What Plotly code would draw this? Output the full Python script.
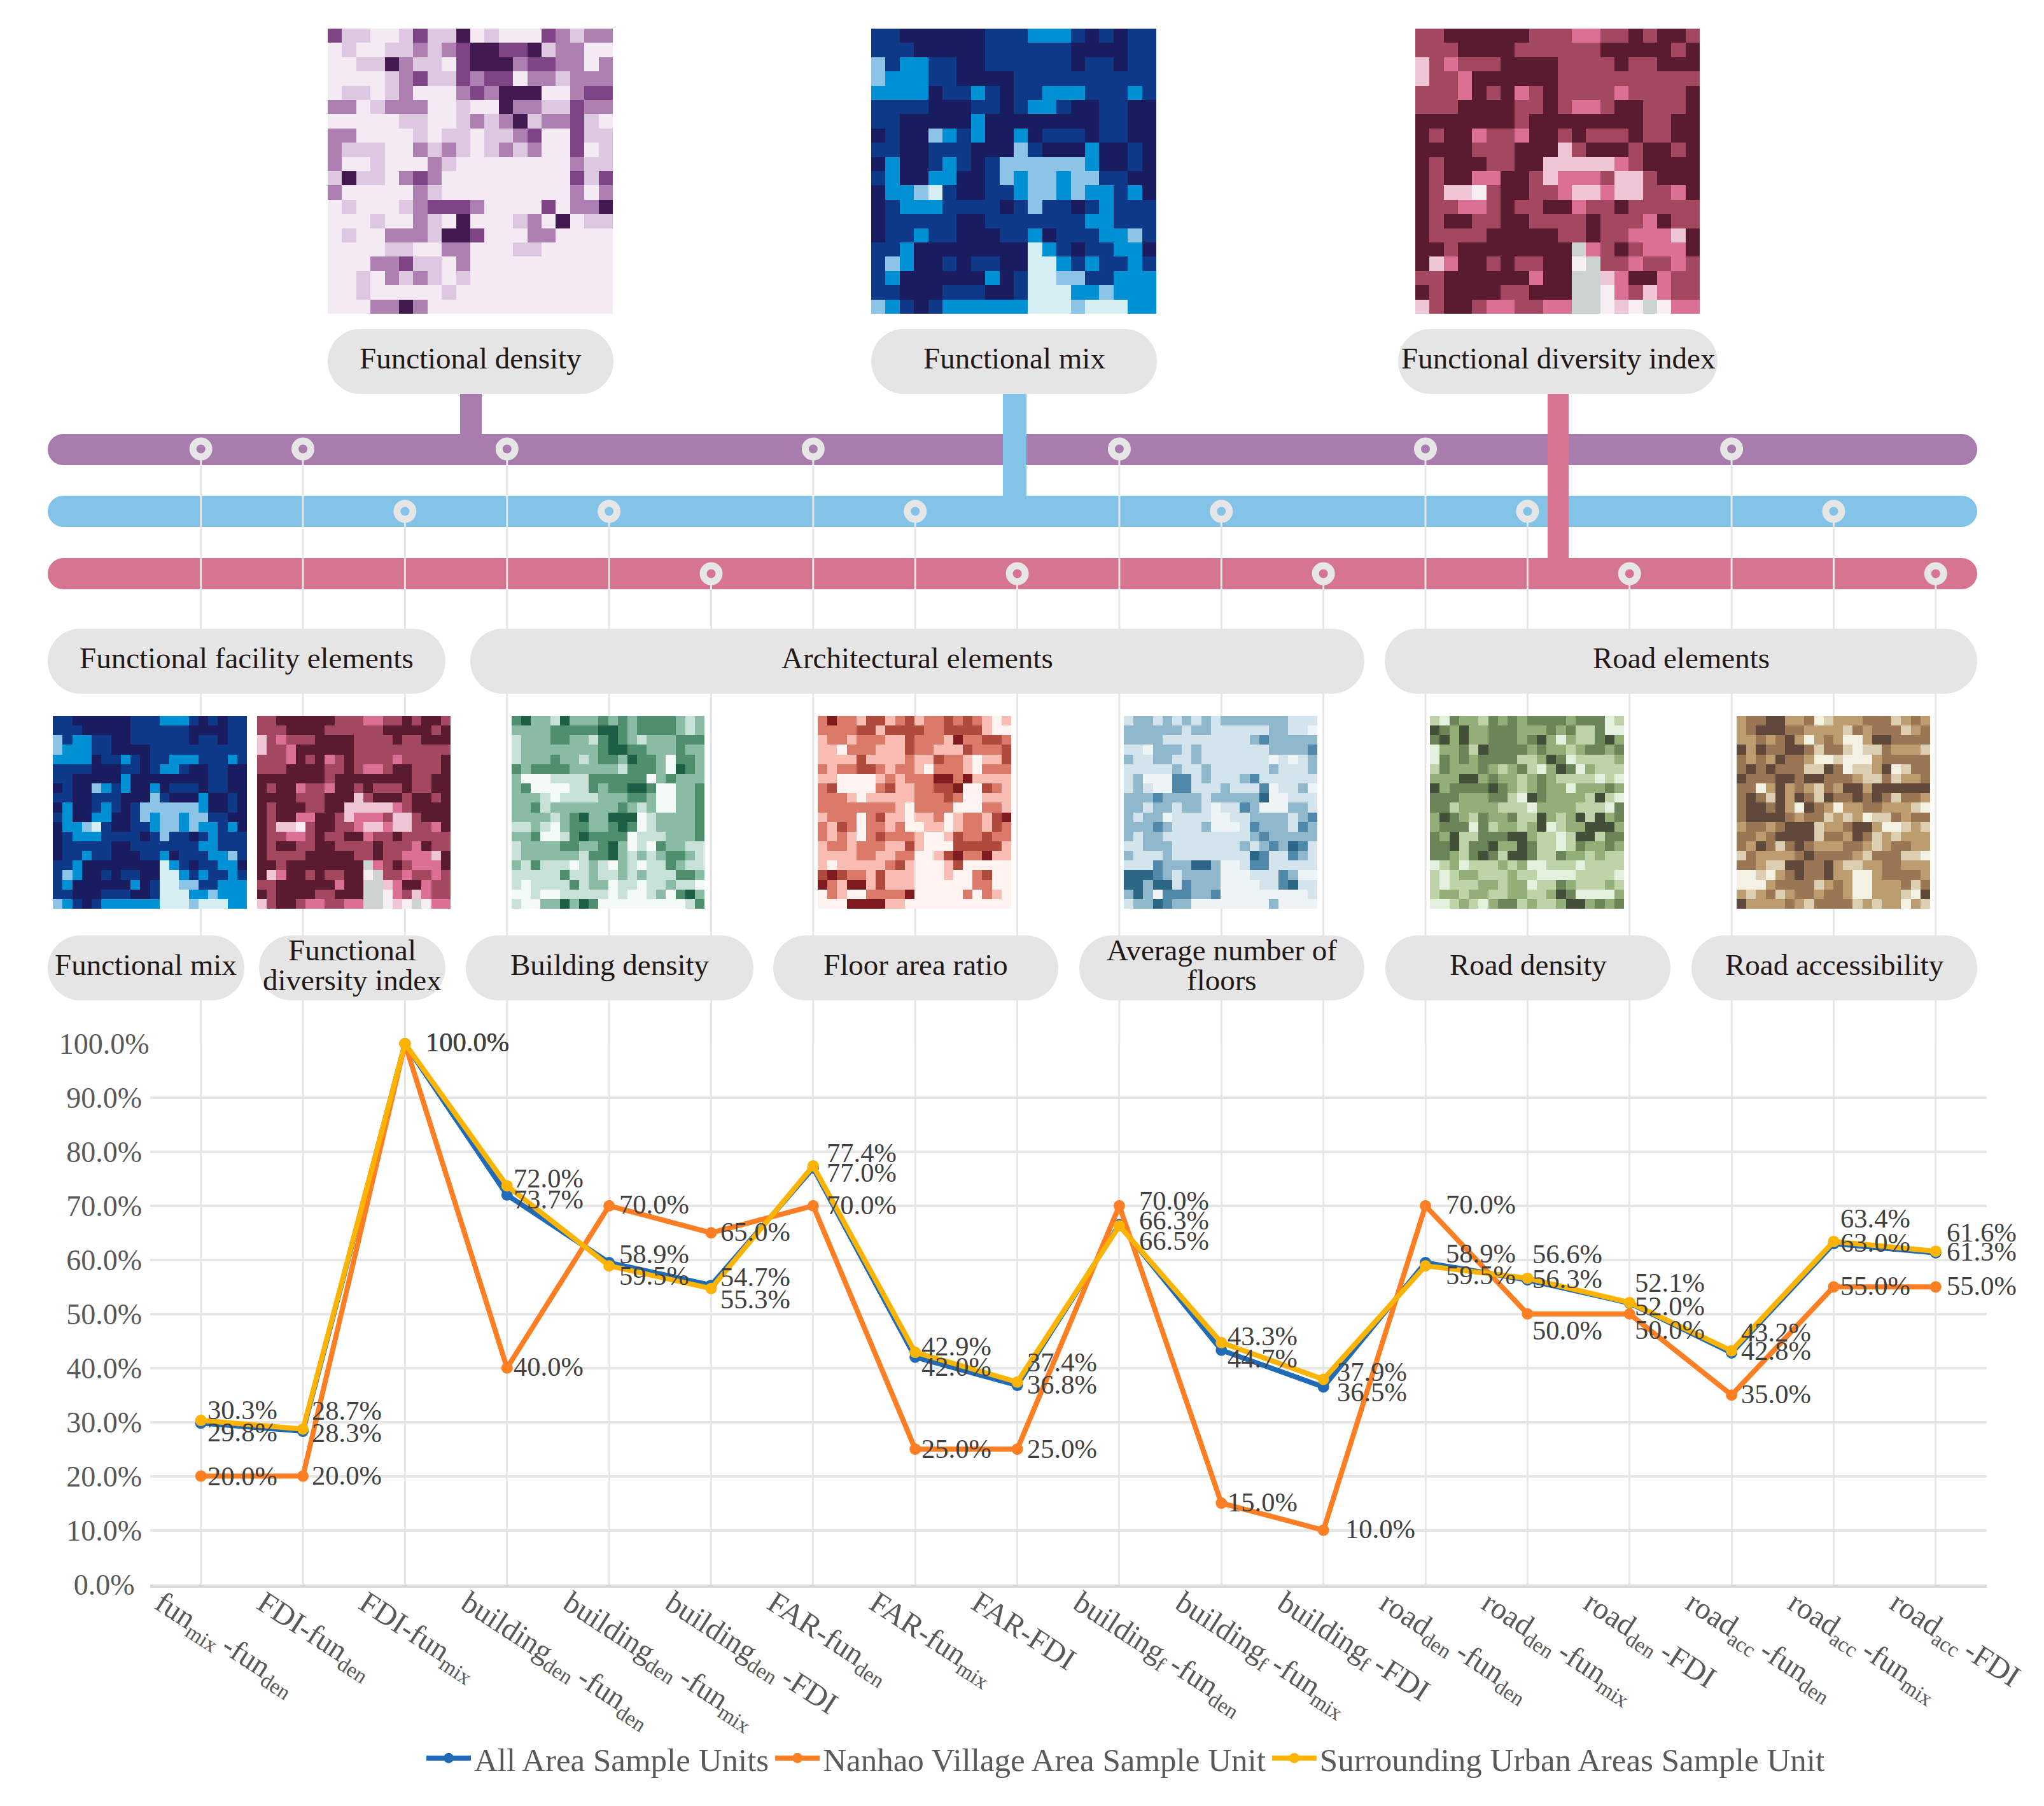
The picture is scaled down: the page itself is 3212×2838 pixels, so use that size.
import plotly.graph_objects as go

W, H = 3212, 2838

# ------------------ chart data ------------------
categories = ["fun<sub>mix&nbsp;</sub>-fun<sub>den</sub>", "FDI-fun<sub>den</sub>", "FDI-fun<sub>mix</sub>",
              "building<sub>den&nbsp;</sub>-fun<sub>den</sub>", "building<sub>den&nbsp;</sub>-fun<sub>mix</sub>", "building<sub>den&nbsp;</sub>-FDI",
              "FAR-fun<sub>den</sub>", "FAR-fun<sub>mix</sub>", "FAR-FDI",
              "building<sub>f&nbsp;</sub>-fun<sub>den</sub>", "building<sub>f&nbsp;</sub>-fun<sub>mix</sub>", "building<sub>f&nbsp;</sub>-FDI",
              "road<sub>den&nbsp;</sub>-fun<sub>den</sub>", "road<sub>den&nbsp;</sub>-fun<sub>mix</sub>", "road<sub>den&nbsp;</sub>-FDI",
              "road<sub>acc&nbsp;</sub>-fun<sub>den</sub>", "road<sub>acc&nbsp;</sub>-fun<sub>mix</sub>", "road<sub>acc&nbsp;</sub>-FDI"]
all_area = [29.8, 28.3, 100.0, 72.0, 59.5, 55.3, 77.0, 42.0, 36.8, 66.5, 43.3, 36.5, 59.5, 56.3, 52.0, 42.8, 63.0, 61.3]
nanhao = [20.0, 20.0, 100.0, 40.0, 70.0, 65.0, 70.0, 25.0, 25.0, 70.0, 15.0, 10.0, 70.0, 50.0, 50.0, 35.0, 55.0, 55.0]
surrounding = [30.3, 28.7, 100.0, 73.7, 58.9, 54.7, 77.4, 42.9, 37.4, 66.3, 44.7, 37.9, 58.9, 56.6, 52.1, 43.2, 63.4, 61.6]
y_ticks = [0, 10, 20, 30, 40, 50, 60, 70, 80, 90, 100]
y_tick_text = ["0.0%", "10.0%", "20.0%", "30.0%", "40.0%", "50.0%", "60.0%", "70.0%", "80.0%", "90.0%", "100.0%"]
series_names = ["All Area Sample Units", "Nanhao Village Area Sample Unit", "Surrounding Urban Areas Sample Unit"]

# ------------------ map tiles (class of each grid cell) ------------------
density_cells = ["31100131140100032122", "01001121234433412200", "00114211034442332202", "00001231132330221222",
                 "01101200023244400233", "22012220010042211322", "00000110012124122310", "22000010110112300311",
                 "21110021210121200301", "20010002100000000211", "14110232000000000313", "20000021000000000202",
                 "01000123332000030224", "00010021040001204011", "01002221443000220000", "00001100220001100000",
                 "00022311020000000000", "00102121010000000000", "00100000100000000000", "00022420000000000000"]
mix_cells = ["33444444333222343433", "33344444333333444433", "13223344333333433433", "12223344443333333333",
             "22224332343322233323", "33334443343223443344", "33444442444444443344", "43441232442433343344",
             "33443334441344424434", "42443234311111124434", "32442244312112113344", "42210344332112122324",
             "43222333343133432333", "43333344333333322333", "43323344433243332213", "33244444444023433224",
             "31244343344002323323", "32444444243001133222", "33444333443000221222", "12343222222000100022"]
fdi_cells = ["33444444333223343443", "33344443333334444434", "13233344443333433444", "13324444443333333333",
             "33324342343333233334", "33344443343223443334", "44444443444444443344", "43442332443433343344",
             "44443334441344434434", "43444334411111234444", "43442244312223113444", "43110344332112113324",
             "43322343344233433333", "43443344333343332433", "43333444443343322214", "44344444444523432224",
             "41244343344053323323", "33444444244551244233", "43444433444550231233", "13443223322550105022"]
building_cells = ["34221422232323333212", "22223333344323333212", "12223322134321222333", "12222222234433222322",
                  "12223221233243320332", "32333322222133320432", "20001111333333023222", "23000011323344300223",
                  "22210111122233200223", "22312222222321200223", "22221234224440122223", "11210233223430122223",
                  "22300134333301112223", "12222332234201032211", "12222221334212123321", "21311101210210113211",
                  "11111311211212111332", "10111131220110112110", "00100111110100120342", "10022424300000000013"]
far_cells = ["24221331231223232101", "22223313333223333100", "12212221132221422332", "11022211132211132223",
             "11113111121132210113", "21223321221022210222", "11000012122244241111", "23000023112233400321",
             "22210111112223200111", "22222222102222000221", "12220231101120122134", "21320221200110122132",
             "21210232221001322322", "12212221131000333331", "11112211220013422411", "10111112310001300000",
             "34322131110001002300", "42144131110000002200", "02100222240000020210", "00044441100000000000"]
floors_cells = ["12212121212222222111", "22222212211111122110", "22221111111112322222", "11022212111111122223",
                "21122112111111101012", "11111211211111121112", "12000331211123111111", "12100331112111301120",
                "22232222122222400111", "22122122101132000221", "21220111100112222123", "22232111200013222132",
                "21221111111112322222", "11222111111121232431", "21112111111114311321", "11132224420013311111",
                "44432122220001113200", "44244132220000113411", "24203332230000000001", "12243220000000020000"]
road_den_cells = ["10322132323333233301", "43242233322232311300", "34242233323420211342", "02231433332322123323",
                  "03232333311243011112", "13222321231024302111", "22244232212321111010", "42333343212322022232",
                  "33322233104322221410", "33122221110222211103", "24321322311421241423", "23330312212401224442",
                  "32411333442110144133", "33413342243110132232", "33213431443113221211", "01201112120011101111",
                  "10122111211000011110", "10111221220113211121", "12212211221124300002", "00121023312112442323"]
road_acc_cells = ["23344223012223331232", "23444332222132333123", "22323420232002443333", "42433443133101132221",
                  "32324332001000233333", "34343331143011240133", "43334434433321131223", "33024232132442444444",
                  "34314243143343431332", "34434204320223322210", "34444323312120113233", "23323444122344200121",
                  "33234444133243121222", "32431343222332123322", "13222234333321333110", "33211443342112233222",
                  "00102343342200233332", "00023333123200222313", "21231233233200222104", "42222321333312122021"]

palettes = {"density": ["#F3EAF4", "#DEC7E0", "#AE80B2", "#7E4485", "#421950"],
            "mix": ["#D4EEF1", "#8CC3E6", "#0090D4", "#0D3988", "#191C5E"],
            "fdi": ["#F7EEF4", "#EFC6D5", "#DB7094", "#A44862", "#5A1A30", "#CDD3D0"],
            "building": ["#F3FAF8", "#C8E2DA", "#8ABBA4", "#4F8F6E", "#1C5F45"],
            "far": ["#FFF3F1", "#F9BDB3", "#DB7A68", "#B04A3C", "#7F1A1F"],
            "floors": ["#EEF4F5", "#D3E4EC", "#8FB8CC", "#4F88A8", "#2C6685"],
            "road_den": ["#E4F0DE", "#BFD3A9", "#94AE78", "#6C8558", "#434F38"],
            "road_acc": ["#F2F1E2", "#DCCEB0", "#BD9C70", "#9A7655", "#60493A"]}

# tile: cells, palette, left, top, right, bottom (page px)
tiles = [(density_cells, "density", 515, 45, 963, 493), (mix_cells, "mix", 1369, 45, 1817, 493),
         (fdi_cells, "fdi", 2224, 45, 2671, 493), (mix_cells, "mix", 83, 1125, 388, 1428),
         (fdi_cells, "fdi", 404, 1125, 708, 1428), (building_cells, "building", 804, 1125, 1107, 1428),
         (far_cells, "far", 1285, 1125, 1589, 1428), (floors_cells, "floors", 1766, 1125, 2070, 1428),
         (road_den_cells, "road_den", 2247, 1125, 2552, 1428), (road_acc_cells, "road_acc", 2729, 1125, 3033, 1428)]

# pills: text lines, left, top, right, bottom (page px)
pills = [(["Functional density"], 515, 517, 964, 619), (["Functional mix"], 1369, 517, 1818, 619),
         (["Functional diversity index"], 2197, 517, 2699, 619),
         (["Functional facility elements"], 75, 988, 700, 1090), (["Architectural elements"], 739, 988, 2144, 1090),
         (["Road elements"], 2176, 988, 3107, 1090),
         (["Functional mix"], 75, 1470, 384, 1572), (["Functional", "diversity index"], 407, 1470, 700, 1572),
         (["Building density"], 732, 1470, 1184, 1572), (["Floor area ratio"], 1215, 1470, 1663, 1572),
         (["Average number of", "floors"], 1696, 1470, 2144, 1572), (["Road density"], 2177, 1470, 2625, 1572),
         (["Road accessibility"], 2658, 1470, 3107, 1572)]

PURPLE, SKY, ROSE = "#A87CAC", "#84C3E8", "#D5758F"
bars = [(PURPLE, 682, 731), (SKY, 779, 828), (ROSE, 877, 926)]
stems = [(PURPLE, 723, 757, 682), (SKY, 1576, 1613, 779), (ROSE, 2432, 2465, 877)]
ring_bar = {0: 705.5, 1: 705.5, 3: 705.5, 6: 705.5, 9: 705.5, 12: 705.5, 15: 705.5,
            2: 803.5, 4: 803.5, 7: 803.5, 10: 803.5, 13: 803.5, 16: 803.5,
            5: 901.5, 8: 901.5, 11: 901.5, 14: 901.5, 17: 901.5}

# data-label placement (dx, dy px from the point; dy positive = down)
off_blue = [(9, 14), (13, 2), (32, -2), (9, -26), (15, 20), (14, 22), (20, 7), (9, 15), (14, -1), (30, 25),
            (9, -22), (20, 8), (31, 19), (7, -2), (7, 5), (14, -3), (10, -2), (16, -2)]
off_orange = [(9, 0), (13, -1), (32, -2), (9, -2), (15, -2), (14, -2), (20, -1), (9, -1), (14, -1), (30, -8),
              (9, -2), (33, -2), (31, -2), (7, 26), (7, 25), (14, -2), (10, -2), (16, -2)]
off_yellow = [(9, -17), (13, -29), (32, -2), (9, 21), (15, -19), (14, -18), (20, -20), (9, -10), (14, -31), (30, -9),
              (9, 25), (20, -12), (31, -20), (7, -38), (7, -31), (14, -29), (10, -36), (16, -30)]

FONT = "Liberation Serif"
INK = "#231815"
PLOT_TOP, PLOT_BOTTOM = 1640, 2489.5


def fx(px):
    return px / W


def fy(py):
    return 1 - py / H


def pill_path(x0, y0, x1, y1):
    r = (y1 - y0) / 2
    k = r * 0.5523
    rx = r
    pts = [f"M{fx(x0 + rx)},{fy(y0)}", f"L{fx(x1 - rx)},{fy(y0)}",
           f"C{fx(x1 - rx + k)},{fy(y0)} {fx(x1)},{fy(y0 + r - k)} {fx(x1)},{fy(y0 + r)}",
           f"C{fx(x1)},{fy(y0 + r + k)} {fx(x1 - rx + k)},{fy(y1)} {fx(x1 - rx)},{fy(y1)}",
           f"L{fx(x0 + rx)},{fy(y1)}",
           f"C{fx(x0 + rx - k)},{fy(y1)} {fx(x0)},{fy(y0 + r + k)} {fx(x0)},{fy(y0 + r)}",
           f"C{fx(x0)},{fy(y0 + r - k)} {fx(x0 + rx - k)},{fy(y0)} {fx(x0 + rx)},{fy(y0)}", "Z"]
    return " ".join(pts)


fig = go.Figure()
shapes, annotations = [], []

# horizontal bars, stems
for color, y0, y1 in bars:
    shapes.append(dict(type="path", path=pill_path(75, y0, 3107, y1), xref="paper", yref="paper",
                       fillcolor=color, line_width=0, layer="below"))
for color, x0, x1, y1 in stems:
    shapes.append(dict(type="rect", x0=fx(x0), x1=fx(x1), y0=fy(619), y1=fy(y1), xref="paper", yref="paper",
                       fillcolor=color, line_width=0, layer="below"))
# drop lines from the rings to the chart
for i, yc in ring_bar.items():
    shapes.append(dict(type="line", x0=i, x1=i, y0=fy(yc + 15), y1=fy(PLOT_TOP), xref="x", yref="paper",
                       line=dict(color="#E6E6E6", width=3), layer="below"))
# pills and their text
for lines, x0, y0, x1, y1 in pills:
    shapes.append(dict(type="path", path=pill_path(x0, y0, x1, y1), xref="paper", yref="paper",
                       fillcolor="#E5E5E5", line_width=0, layer="below"))
    yc = (y0 + y1) / 2 - 5
    for n, line in enumerate(lines):
        ly = yc + (n - (len(lines) - 1) / 2) * 47
        annotations.append(dict(text=line, x=fx((x0 + x1) / 2), y=fy(ly), xref="paper", yref="paper",
                                xanchor="center", yanchor="middle", showarrow=False, borderpad=0,
                                font=dict(family=FONT, size=47, color=INK)))

# map tiles
for cells, pal, x0, y0, x1, y1 in tiles:
    colors = palettes[pal]
    n = len(colors) - 1
    dx, dy = (x1 - x0) / 20, (y1 - y0) / 20
    fig.add_trace(go.Heatmap(z=[[int(c) for c in row] for row in cells], x0=x0 + dx / 2, dx=dx, y0=y0 + dy / 2, dy=dy,
                             xaxis="x2", yaxis="y2", zmin=0, zmax=n,
                             colorscale=[[k / n, c] for k, c in enumerate(colors)],
                             showscale=False, hoverinfo="skip"))

# rings on the bars
ring_idx = list(ring_bar)
fig.add_trace(go.Scatter(x=ring_idx, y=[ring_bar[i] for i in ring_idx], xaxis="x3", yaxis="y2", mode="markers",
                         marker=dict(symbol="circle-open", size=25, color="#E6E6E6", line=dict(width=11, color="#E6E6E6")),
                         showlegend=False, hoverinfo="skip", cliponaxis=False))

# the three series
xs = list(range(len(categories)))
for name, vals, color, offs in [(series_names[0], all_area, "#1F6BB8", off_blue),
                                (series_names[1], nanhao, "#FD7E23", off_orange),
                                (series_names[2], surrounding, "#FDB400", off_yellow)]:
    fig.add_trace(go.Scatter(x=xs, y=vals, name=name, mode="lines+markers", xaxis="x", yaxis="y", cliponaxis=False,
                             line=dict(color=color, width=8), marker=dict(color=color, size=18)))
    for i, v in enumerate(vals):
        annotations.append(dict(text=f"{v:.1f}%", x=i, y=v, xref="x", yref="y", xanchor="left", yanchor="middle",
                                xshift=offs[i][0], yshift=-offs[i][1], showarrow=False, borderpad=0,
                                font=dict(family=FONT, size=42.5, color="#404040")))

pad_ticks = [t + "&nbsp;" * (2 if len(t) == 4 else 1 if len(t) == 5 else 0) for t in y_tick_text]

fig.update_layout(
    width=W, height=H, autosize=False, margin=dict(l=0, r=0, t=0, b=0, pad=0, autoexpand=False),
    paper_bgcolor="white", plot_bgcolor="rgba(0,0,0,0)", shapes=shapes, annotations=annotations,
    font=dict(family=FONT),
    xaxis=dict(domain=[fx(235.5), fx(3122)], range=[-0.5, 17.5], anchor="y", tickmode="array", tickvals=xs,
               ticktext=categories, tickangle=33, ticklabelshift=-62, ticklabelstandoff=-22, ticks="", showgrid=True,
               gridcolor="#E8E8E8", gridwidth=3, showline=True, linecolor="#D9D9D9", linewidth=5, zeroline=False,
               tickfont=dict(family=FONT, size=48, color="#595959")),
    yaxis=dict(domain=[fy(PLOT_BOTTOM), fy(PLOT_TOP)], range=[0, 100], anchor="x", tickmode="array", tickvals=y_ticks,
               ticktext=pad_ticks, ticks="", showgrid=True, gridcolor="#E6E6E6", gridwidth=4, zeroline=False,
               showline=False, tickfont=dict(family=FONT, size=46, color="#595959")),
    xaxis2=dict(domain=[0, 1], range=[0, W], anchor="y2", visible=False, fixedrange=True),
    yaxis2=dict(domain=[0, 1], range=[H, 0], anchor="x2", visible=False, fixedrange=True),
    xaxis3=dict(domain=[fx(235.5), fx(3122)], range=[-0.5, 17.5], anchor="y2", visible=False, fixedrange=True),
    legend=dict(orientation="h", x=fx(1769), xanchor="center", y=fy(2763), yanchor="middle", itemwidth=70,
                font=dict(family=FONT, size=51, color="#595959"), bgcolor="rgba(0,0,0,0)", traceorder="normal"),
)

fig.write_html("out.html", config={"displayModeBar": False},
               post_script="document.body.style.margin='0';document.documentElement.style.overflow='hidden';")
